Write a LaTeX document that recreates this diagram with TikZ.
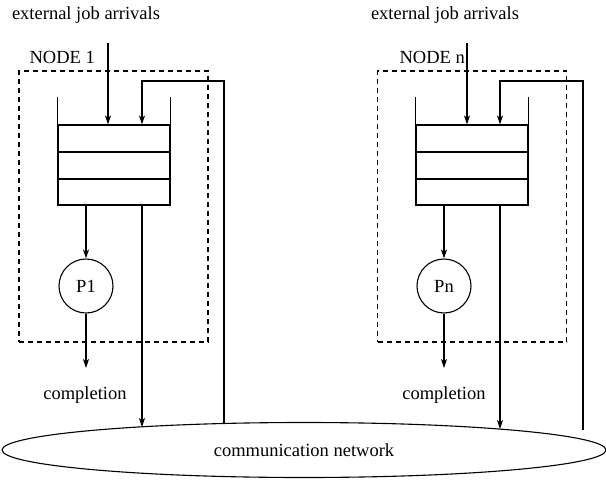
\documentclass[tikz,border=0pt]{standalone}
\usepackage{fontspec}
\setmainfont{Liberation Serif}
\usetikzlibrary{arrows.meta,shapes.geometric}
\begin{document}
\begin{tikzpicture}[x=1pt,y=-1pt,
  line width=1.1pt,
  every node/.style={font=\fontsize{18.5}{22}\selectfont, inner sep=0pt},
  arr/.style={-{Stealth[length=9pt,width=6pt,inset=2.5pt]}},
  nodebox/.style={draw,dash pattern=on 5pt off 4pt,minimum width=189pt,minimum height=271pt},
  queuebox/.style={draw,minimum width=112pt,minimum height=80pt},
  proc/.style={draw,circle,minimum size=54pt},
  netw/.style={draw,ellipse,minimum width=604pt,minimum height=55pt},
]
\useasboundingbox (0,0) rectangle (606,488);

% network
\node[netw] (net) at (304,450) {communication network};

% ---------- NODE 1 ----------
\node (ext1) at (86,15) {external job arrivals};
\node[anchor=west] (lab1) at (29,57) {NODE 1};
\node[nodebox] (box1) at (113.5,206.5) {};
\node[queuebox] (q1) at (114,165) {};
\draw (q1.north west) -- ++(0,-27);
\draw (q1.north east) -- ++(0,-27);
\draw (q1.west |- 0,152) -- (q1.east |- 0,152);
\draw (q1.west |- 0,179) -- (q1.east |- 0,179);
\node[proc] (p1) at (86,286) {P1};
\node (c1) at (85,395) {completion};
\coordinate (a1) at (108,43);
\draw[arr] (a1) -- (a1 |- q1.north);
\coordinate (fb1) at (224,423.5);
\coordinate (fbt1) at (142,81);
\draw[arr] (fb1) |- (fbt1) -- (fbt1 |- q1.north);
\draw[arr] (p1.north |- q1.south) -- (p1.north);
\coordinate (done1) at (86,368);
\draw[arr] (p1.south) -- (done1);
\coordinate (out1) at (142,205);
\coordinate (in1) at (142,427);
\draw[arr] (out1) -- (in1);

% ---------- NODE n ----------
\node (ext2) at (445,15) {external job arrivals};
\node[anchor=west] (lab2) at (399,57) {NODE n};
\node[nodebox] (box2) at (472,206.5) {};
\node[queuebox] (q2) at (472,165) {};
\draw (q2.north west) -- ++(0,-27);
\draw (q2.north east) -- ++(0,-27);
\draw (q2.west |- 0,152) -- (q2.east |- 0,152);
\draw (q2.west |- 0,179) -- (q2.east |- 0,179);
\node[proc] (p2) at (444,286) {Pn};
\node (c2) at (444,395) {completion};
\coordinate (a2) at (467,43);
\draw[arr] (a2) -- (a2 |- q2.north);
\coordinate (fb2) at (583,430);
\coordinate (fbt2) at (500,81);
\draw[arr] (fb2) |- (fbt2) -- (fbt2 |- q2.north);
\draw[arr] (p2.north |- q2.south) -- (p2.north);
\coordinate (done2) at (444,368);
\draw[arr] (p2.south) -- (done2);
\coordinate (out2) at (500,205);
\coordinate (in2) at (500,429);
\draw[arr] (out2) -- (in2);
\end{tikzpicture}
\end{document}
